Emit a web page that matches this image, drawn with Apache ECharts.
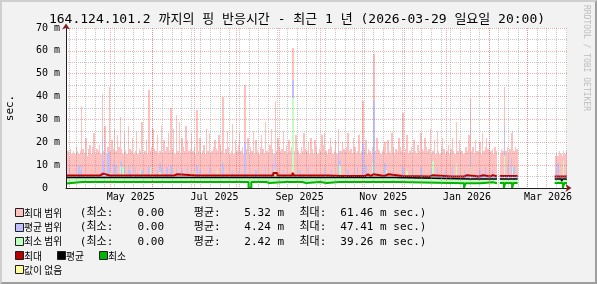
<!DOCTYPE html>
<html><head><meta charset="utf-8">
<script src="https://cdn.jsdelivr.net/npm/echarts@6/dist/echarts.min.js"></script>
<style>html,body{margin:0;padding:0;background:#f2f2f2}#c{width:597px;height:284px}</style>
</head><body><div id="c"></div>
<script>
// ---------------- data ----------------
const titleText = '164.124.101.2 까지의 핑 반응시간 - 최근 1 년 (2026-03-29 일요일 20:00)';
const START = Date.UTC(2025, 2, 29, 20, 0, 0);   // graph start (1 year before end)
const DAYS = 365;                                  // daily bins, bin d covers [d, d+1]

// top of "최대 범위" (max range), one value per day
const pinkTop = [
/*0*/ 15,16,14,17,15,16,15,18,16,15,
/*10*/ 16,36,17,15,22,14,17,19,15,18,
/*20*/ 24,15,17,16,19,15,41,16,27,15,
/*30*/ 18,44,16,21,17,26,16,23,18,31,
/*40*/ 17,15,24,16,15,27,17,16,22,15,
/*50*/ 16,25,15,17,16,29,15,16,21,15,
/*60*/ 43,16,18,26,17,16,23,15,16,27,
/*70*/ 15,21,16,18,24,16,35,17,26,15,
/*80*/ 32,16,29,15,22,18,16,27,21,16,
/*90*/ 17,24,16,18,15,34,16,22,15,16,
/*100*/ 19,15,26,16,24,15,16,18,21,17,
/*110*/ 16,23,19,16,40,15,17,25,18,15,
/*120*/ 16,28,15,21,16,19,24,16,18,15,
/*130*/ 45,17,22,15,18,16,25,15,21,16,
/*140*/ 15,18,23,17,15,29,16,15,19,26,
/*150*/ 17,15,38,16,22,18,16,17,25,16,
/*160*/ 19,15,21,16,18,61.46,16,23,17,16,
/*170*/ 15,18,16,24,17,16,20,15,22,17,
/*180*/ 15,21,18,15,17,16,23,19,24,16,
/*190*/ 15,17,22,18,15,16,21,15,26,16,
/*200*/ 16,20,17,16,18,24,16,17,15,22,
/*210*/ 18,15,16,23,15,16,38,17,21,15,
/*220*/ 17,16,15,18,58.5,16,22,17,16,15,
/*230*/ 16,18,20,15,21,16,15,24,18,15,
/*240*/ 17,16,22,18,16,33,15,17,23,15,
/*250*/ 16,18,15,21,16,15,19,16,24,17,
/*260*/ 16,22,18,16,17,26,15,16,21,15,
/*270*/ 25,16,15,18,22,17,15,16,19,15,
/*280*/ 17,22,16,15,29,16,21,17,16,15,
/*290*/ 15,18,16,23,39,16,18,15,21,16,
/*300*/ 16,20,15,24,16,18,22,17,20,16,
/*310*/ 17,15,18,16,null,null,15,17,16,44.2,
/*320*/ 16,18,15,17,24,25,16,18,17,
/*329*/ null,null,null,null,null,null,null,null,null,
/*338*/ null,null,null,null,null,null,null,null,null,
/*347*/ null,null,null,null,null,null,null,null,null,
/*356*/ 14,15,14,16,15,14,16,15,16
];

// top of "평균 범위" (avg range)
const blueTop = [
/*0*/ 5,5,9,5,5,5,5,5,5,10,
/*10*/ 8,10,5,5,5,5,5,5,5,5,
/*20*/ 5,5,5,5,5,5,21.7,12,5,5,
/*30*/ 15,16.6,5,5,11,5,10,5,5,11.5,
/*40*/ 12,5,9,5,5,10,8,5,5,5,
/*50*/ 9,5,5,5,5,8,5,5,5,5,
/*60*/ 9,10,5,5,5,5,8,5,11,9,
/*70*/ 5,5,5,9,5,5,10,5,5,5,
/*80*/ 9,5,5,5,8,5,5,5,9,5,
/*90*/ 5,5,5,8,5,10,5,8,5,5,
/*100*/ 5,5,5,5,9,5,5,5,5,5,
/*110*/ 8,5,5,5,11,5,5,5,5,5,
/*120*/ 5,8,5,5,5,7.5,5,5,5,5,
/*130*/ 20,5,5,5,5,5,5,5,8,5,
/*140*/ 5,5,5,5,5,9,5,5,5,5,
/*150*/ 11,5,15,5,5,5,5,5,8,5,
/*160*/ 5,5,5,5,5,47.41,5,5,5,5,
/*170*/ 8,5,5,5,5,5,9,5,5,5,
/*180*/ 5,5,5,5,5,5,5,5,9,5,
/*190*/ 5,5,5,8,5,5,5,5,16.5,12,
/*200*/ 5,5,5,5,5,8,5,5,5,5,
/*210*/ 5,5,9,5,5,5,19.7,5,10,5,
/*220*/ 5,5,5,5,38,5,5,5,5,5,
/*230*/ 5,5,11,5,5,5,5,5,8,5,
/*240*/ 5,5,5,5,5,9,5,5,5,5,
/*250*/ 5,5,8,5,5,5,5,5,9,5,
/*260*/ 5,5,5,5,5,8,5,5,5,5,
/*270*/ 9,5,5,5,5,5,8,5,5,5,
/*280*/ 5,9,5,5,11,5,5,5,5,5,
/*290*/ 8,5,5,5,14,5,5,5,5,5,
/*300*/ 5,8,5,5,5,9,5,5,5,5,
/*310*/ 8,5,5,5,null,null,5,5,5,27,
/*320*/ 5,10,5,5,13,5,9,5,5,
/*329*/ null,null,null,null,null,null,null,null,null,
/*338*/ null,null,null,null,null,null,null,null,null,
/*347*/ null,null,null,null,null,null,null,null,null,
/*356*/ 5,5,11,5,5,5,8,5,5
];

// top of "최소 범위" (min range)
const greenTop = [
/*0*/ 4.6,4.6,4.6,4.6,4.6,4.6,4.6,4.6,4.6,4.6,
/*10*/ 4.6,4.6,4.6,4.6,4.6,4.6,4.6,4.6,4.6,4.6,
/*20*/ 4.6,4.6,4.6,4.6,4.6,4.6,4.6,4.6,4.6,4.6,
/*30*/ 4.6,4.6,7,4.6,4.6,4.6,4.6,4.6,4.6,10,
/*40*/ 4.6,9,4.6,4.6,4.6,4.6,4.6,4.6,4.6,4.6,
/*50*/ 4.6,4.6,4.6,4.6,8,4.6,4.6,4.6,4.6,4.6,
/*60*/ 4.6,9,4.6,4.6,4.6,4.6,4.6,4.6,7,4.6,
/*70*/ 4.6,4.6,4.6,4.6,4.6,4.6,4.6,4.6,4.6,4.6,
/*80*/ 4.6,4.6,4.6,4.6,4.6,4.6,4.6,4.6,4.6,4.6,
/*90*/ 4.6,4.6,4.6,7.5,4.6,4.6,4.6,4.6,4.6,4.6,
/*100*/ 4.6,4.6,4.6,4.6,4.6,4.6,4.6,4.6,4.6,4.6,
/*110*/ 8,4.6,4.6,4.6,4.6,4.6,4.6,4.6,4.6,4.6,
/*120*/ 4.6,4.6,4.6,4.6,4.6,4.6,4.6,4.6,4.6,4.6,
/*130*/ 4.6,4.6,4.6,4.6,4.6,4.6,4.6,4.6,4.6,4.6,
/*140*/ 4.6,4.6,4.6,4.6,4.6,4.6,4.6,4.6,4.6,4.6,
/*150*/ 4.6,4.6,8,4.6,4.6,4.6,4.6,4.6,4.6,4.6,
/*160*/ 4.6,4.6,4.6,4.6,4.6,39.26,4.6,4.6,4.6,4.6,
/*170*/ 4.6,4.6,4.6,4.6,4.6,4.6,4.6,4.6,4.6,4.6,
/*180*/ 4.6,4.6,4.6,4.6,4.6,4.6,4.6,4.6,4.6,4.6,
/*190*/ 4.6,4.6,4.6,4.6,4.6,4.6,4.6,4.6,4.6,10,
/*200*/ 4.6,4.6,4.6,4.6,4.6,4.6,4.6,4.6,4.6,4.6,
/*210*/ 4.6,4.6,4.6,4.6,4.6,4.6,4.6,4.6,4.6,4.6,
/*220*/ 4.6,4.6,4.6,10.8,4.6,4.6,4.6,4.6,4.6,4.6,
/*230*/ 4.6,4.6,4.6,8,4.6,4.6,4.6,4.6,4.6,4.6,
/*240*/ 4.6,3.9,3.9,3.9,3.9,3.9,3.9,3.9,7.5,3.9,
/*250*/ 3.9,3.9,3.9,3.9,3.9,3.9,3.9,3.9,3.9,3.9,
/*260*/ 3.9,3.9,3.9,3.9,3.9,3.9,3.9,12,3.9,3.9,
/*270*/ 3.9,3.9,3.9,3.9,3.9,3.9,3.9,3.9,3.9,3.9,
/*280*/ 3.9,3.9,3.9,3.9,11,3.9,3.9,3.9,3.9,3.9,
/*290*/ 3.9,3.9,3.9,3.9,9,3.9,3.9,3.9,3.9,3.9,
/*300*/ 3.9,3.9,3.9,3.9,3.9,3.9,3.9,3.9,3.9,3.9,
/*310*/ 3.9,3.9,3.9,3.9,null,null,3.9,3.9,3.9,14,
/*320*/ 3.9,3.9,3.9,3.9,3.9,9,3.9,3.9,3.9,
/*329*/ null,null,null,null,null,null,null,null,null,
/*338*/ null,null,null,null,null,null,null,null,null,
/*347*/ null,null,null,null,null,null,null,null,null,
/*356*/ 3.9,3.9,3.9,3.9,3.9,3.9,12,3.9,3.9
];

// step lines as [day, value] change points (value held until next point; null = no data)
const maxLine = [
 [0,5.5],[11,6.0],[12,5.5],[18,5.9],[19,5.5],[25,6.3],[27,5.5],[32,5.9],[33,5.5],[39,5.9],[40,5.5],
 [51,6.0],[52,5.5],[54,5.9],[55,5.5],[61,5.9],[62,5.5],[68,6.0],[69,5.5],[70,5.9],[71,5.5],
 [79,6.0],[81,5.5],[95,5.9],[96,5.5],[112,6.0],[113,5.5],[130,5.9],[131,5.5],[132,6.0],[133,5.5],
 [146,5.9],[147,5.5],[151,6.6],[154,5.5],[165,6.7],[166,5.5],[190,5.3],[202,5.9],[203,5.3],
 [218,5.9],[220,5.3],[222,6.0],[224,5.3],[232,6.0],[235,5.3],[245,5.8],[246,5.0],[265,5.6],[267,5.0],
 [281,5.5],[282,5.0],[290,5.6],[292,5.0],[301,5.6],[304,5.0],[309,5.6],[311,5.0],[314,null],
 [316,5.2],[329,null],[356,5.0]
];
const avgLine = [
 [0,4.6],[25,4.1],[26,4.6],[241,3.9],[295,3.3],[296,3.9],[314,null],[316,3.9],[329,null],
 [356,3.9],[361,3.0],[362,3.9]
];
const minLine = [
 [0,2.0],[1,2.6],[12,1.8],[13,2.6],[133,0],[135,2.6],[146,2.2],[148,2.6],[160,2.2],[161,2.6],
 [172,2.2],[175,2.6],[185,2.2],[190,2.6],[199,2.2],[200,2.6],[241,2.1],[290,0],[291,2.1],
 [302,2.5],[311,2.1],[314,null],[316,2.2],[319,0],[320,2.2],[325,0],[326,2.2],[329,null],
 [356,2.2],[362,0],[363,2.2]
];

const monthStarts = ['2025-04-01','2025-05-01','2025-06-01','2025-07-01','2025-08-01','2025-09-01',
  '2025-10-01','2025-11-01','2025-12-01','2026-01-01','2026-02-01','2026-03-01'];
const labelMonths = ['2025-05-01','2025-07-01','2025-09-01','2025-11-01','2026-01-01','2026-03-01'];
const labelTexts  = ['May 2025','Jul 2025','Sep 2025','Nov 2025','Jan 2026','Mar 2026'];
const firstSunday = '2025-03-30';
const yLabelUnit = ' m';

const legendRows = [
  {label:'최대 범위', color:'#ffc0c0', min:'0.00', avg:'5.32 m', max:'61.46 m sec.)'},
  {label:'평균 범위', color:'#c0c0ff', min:'0.00', avg:'4.24 m', max:'47.41 m sec.)'},
  {label:'최소 범위', color:'#c0ffc0', min:'0.00', avg:'2.42 m', max:'39.26 m sec.)'}
];
const lineLegend = [
  {label:'최대', color:'#b80000'},
  {label:'평균', color:'#000000'},
  {label:'최소', color:'#00b400'}
];
const unknownLegend = {label:'값이 없음', color:'#ffffa0'};

// ---------------- helpers ----------------
const dayOf = s => { const p = s.split('-').map(Number); return (Date.UTC(p[0], p[1]-1, p[2]) - START) / 86400000; };
function changeSteps(cp, end) {
  const out = [];
  for (let i = 0; i < cp.length; i++) {
    const x0 = cp[i][0], v = cp[i][1], x1 = i + 1 < cp.length ? cp[i + 1][0] : end;
    if (v == null) { out.push([x0, null]); continue; }
    out.push([x0, v], [x1, v]);
  }
  return out;
}
// one pixel-snapped column per daily bin, positioned through the axis scales
function rangeSeries(name, arr, color, z) {
  const data = [];
  arr.forEach((v, d) => { if (v != null) data.push([d, v]); });
  return {
    type:'custom', name:name, z:z, silent:true, data:data, encode:{x:0, y:1},
    renderItem:(params, api) => {
      const d = api.value(0), v = api.value(1);
      const p0 = api.coord([d, 0]), p1 = api.coord([d + 1, v]);
      const x0 = Math.round(p0[0]), x1 = Math.round(p1[0]);
      const y0 = Math.round(p0[1]), y1 = Math.round(p1[1]);
      return {type:'rect', shape:{x:x0, y:y1, width:Math.max(x1 - x0, 0), height:y0 - y1}, style:{fill:color}};
    }
  };
}
const monthDays = monthStarts.map(dayOf);
const labelDays = labelMonths.map(s => dayOf(s) + 15);
const weekDays = [];
for (let t = dayOf(firstSunday); t < DAYS; t += 7) weekDays.push(t);

const MONO = '"DejaVu Sans Mono", "Noto Sans CJK KR", monospace';
const CJK = '"Noto Sans CJK KR", sans-serif';
const GRID_GRAY = 'rgba(143,143,143,0.5)';
const GRID_RED = 'rgba(222,79,79,0.45)';

// ---------------- graphic (frame, title, legend) ----------------
const W = 597, H = 284;
const g = [];
g.push({type:'polygon', silent:true, shape:{points:[[0,H],[2,H-2],[2,2],[W-2,2],[W,0],[0,0]]}, style:{fill:'#cfcfcf'}});
g.push({type:'polygon', silent:true, shape:{points:[[2,H-2],[W-2,H-2],[W-2,2],[W,0],[W,H],[0,H]]}, style:{fill:'#9e9e9e'}});
g.push({type:'text', silent:true, x:297, y:19.5, style:{text:titleText, fontSize:13, fontFamily:MONO, fill:'#000', align:'center', verticalAlign:'middle'}});
g.push({type:'text', silent:true, x:586.5, y:5, rotation:-Math.PI/2, style:{text:'RRDTOOL / TOBI OETIKER', fontSize:8, fontFamily:MONO, fill:'#bdbdbd', align:'left', verticalAlign:'middle'}});

const rowY = [213.3, 227.5, 241.7, 255.9, 270.1];
function box(x, yc, color) {
  g.push({type:'rect', silent:true, shape:{x:x, y:Math.round(yc - 4) - 0.5, width:8, height:8}, style:{fill:color, stroke:'#1f1f1f', lineWidth:1}});
}
function txt(x, yc, s, opts) {
  g.push({type:'text', silent:true, x:x, y:yc, style:Object.assign({text:s, fontSize:11, fontFamily:MONO, fill:'#000', align:'left', verticalAlign:'middle'}, opts || {})});
}
legendRows.forEach((r, i) => {
  const y = rowY[i];
  box(15.5, y, r.color);
  txt(24, y, r.label, {fontSize:9.8, fontFamily:CJK});
  txt(79.8, y, '(최소:');
  txt(164, y, r.min, {align:'right'});
  txt(193.8, y, '평균:');
  txt(284, y, r.avg, {align:'right'});
  txt(299.5, y, '최대:');
  txt(340.3, y, r.max);
});
const lineBoxX = [15.5, 57.5, 99.5];
lineLegend.forEach((r, i) => {
  box(lineBoxX[i], rowY[3], r.color);
  txt(lineBoxX[i] + 8.5, rowY[3], r.label, {fontSize:9.8, fontFamily:CJK});
});
box(15.5, rowY[4], unknownLegend.color);
txt(24, rowY[4], unknownLegend.label, {fontSize:9.8, fontFamily:CJK});

// ---------------- chart ----------------
const chart = echarts.init(document.getElementById('c'), null, {renderer:'canvas'});
const axisFont = {fontFamily:MONO, fontSize:10, color:'#000'};
const option = {
  animation:false,
  backgroundColor:'#f2f2f2',
  grid:{left:66, right:30, top:28, bottom:96, show:true, backgroundColor:'#ffffff', borderWidth:0, outerBoundsMode:'none', containLabel:false},
  xAxis:[
    {type:'value', position:'bottom', min:0, max:DAYS, z:6,
     axisLine:{show:true, onZero:false, lineStyle:{color:'#1f1f1f', width:1}},
     axisTick:{show:false, customValues:monthDays},
     axisLabel:Object.assign({customValues:labelDays, margin:4, formatter:v => labelTexts[labelDays.indexOf(v)] || ''}, axisFont),
     splitLine:{show:true, lineStyle:{color:GRID_RED, width:1, type:[1,1]}}},
    {type:'value', position:'bottom', min:0, max:DAYS, z:5,
     axisLine:{show:false}, axisTick:{show:false, customValues:weekDays}, axisLabel:{show:false},
     splitLine:{show:true, lineStyle:{color:GRID_GRAY, width:1, type:[1,1]}}},
    {type:'value', position:'bottom', min:0, max:DAYS, z:8,
     axisLine:{show:true, onZero:false, symbol:['none','arrow'], symbolSize:[6,6], symbolOffset:[0,4.5], lineStyle:{color:'#801f1f', width:0.01}},
     axisTick:{show:false}, axisLabel:{show:false}, splitLine:{show:false}}
  ],
  yAxis:[
    {type:'value', position:'left', min:0, max:70, interval:10, z:5,
     name:'sec.', nameLocation:'middle', nameRotate:90, nameGap:50,
     nameTextStyle:{fontFamily:MONO, fontSize:11, color:'#000'},
     axisLine:{show:true, onZero:false, lineStyle:{color:'#1f1f1f', width:1}},
     axisTick:{show:false},
     axisLabel:Object.assign({margin:6, formatter:v => v === 0 ? '0  ' : v + yLabelUnit}, axisFont),
     splitLine:{show:true, lineStyle:{color:GRID_RED, width:1, type:[1,1]}},
     minorTick:{show:false, splitNumber:2},
     minorSplitLine:{show:true, lineStyle:{color:GRID_GRAY, width:1, type:[1,1]}}},
    {type:'value', position:'left', min:0, max:70, z:8,
     axisLine:{show:true, onZero:false, symbol:['none','arrow'], symbolSize:[6,6], symbolOffset:[0,4.5], lineStyle:{color:'#801f1f', width:0.01}},
     axisTick:{show:false}, axisLabel:{show:false}, splitLine:{show:false}}
  ],
  series:[
    rangeSeries('최대 범위', pinkTop, '#ffc0c0', 1),
    rangeSeries('평균 범위', blueTop, '#c0c0ff', 1.1),
    rangeSeries('최소 범위', greenTop, '#c0ffc0', 1.2),
    {name:'base', type:'line', data:changeSteps(minLine, DAYS), showSymbol:false, silent:true, z:1.3,
     lineStyle:{width:0}, areaStyle:{color:'#ffffff', opacity:1}},
    {name:'최대', type:'line', data:changeSteps(maxLine, DAYS), showSymbol:false, silent:true, z:2,
     lineStyle:{width:2, color:'#b80000'}},
    {name:'평균', type:'line', data:changeSteps(avgLine, DAYS), showSymbol:false, silent:true, z:2.1,
     lineStyle:{width:1.5, color:'#000000'}},
    {name:'최소', type:'line', data:changeSteps(minLine, DAYS), showSymbol:false, silent:true, z:2.2,
     lineStyle:{width:2, color:'#00b400'}}
  ],
  graphic:{elements:g}
};
chart.setOption(option);
</script>
</body></html>
